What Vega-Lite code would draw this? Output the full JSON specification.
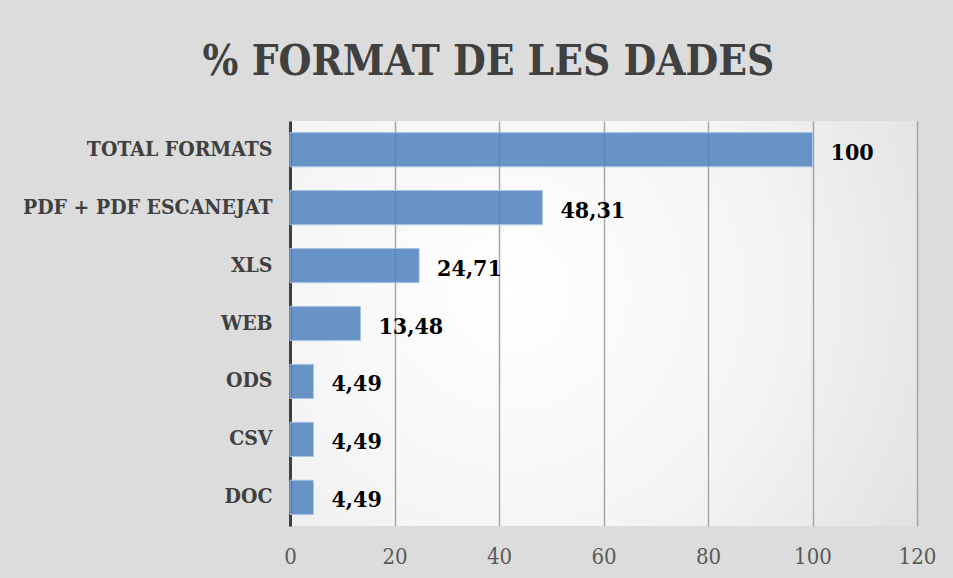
{
  "$schema": "https://vega.github.io/schema/vega-lite/v6.json",
  "width": 627,
  "height": 405,
  "autosize": {"type": "none"},
  "padding": {"left": 290, "top": 121, "right": 36, "bottom": 52},
  "background": "#dcdcdc",
  "title": {
    "text": "% FORMAT DE LES DADES",
    "font": "DejaVu Serif Condensed",
    "fontSize": 42,
    "fontWeight": "bold",
    "color": "#404040",
    "anchor": "middle",
    "dx": -115,
    "offset": 37
  },
  "data": {
    "values": [
      {"format": "TOTAL FORMATS", "value": 100, "label": "100"},
      {"format": "PDF + PDF ESCANEJAT", "value": 48.31, "label": "48,31"},
      {"format": "XLS", "value": 24.71, "label": "24,71"},
      {"format": "WEB", "value": 13.48, "label": "13,48"},
      {"format": "ODS", "value": 4.49, "label": "4,49"},
      {"format": "CSV", "value": 4.49, "label": "4,49"},
      {"format": "DOC", "value": 4.49, "label": "4,49"}
    ]
  },
  "encoding": {
    "y": {
      "field": "format",
      "type": "nominal",
      "sort": null,
      "title": null,
      "scale": {"paddingInner": 0.41, "paddingOuter": 0.2},
      "axis": {
        "domain": true,
        "domainColor": "#404040",
        "domainWidth": 3,
        "ticks": false,
        "labelPadding": 18,
        "labelLimit": 400,
        "labelFont": "DejaVu Serif Condensed",
        "labelFontWeight": "bold",
        "labelFontSize": 21,
        "labelColor": "#404040",
        "grid": false
      }
    },
    "x": {
      "field": "value",
      "type": "quantitative",
      "title": null,
      "scale": {"domain": [0, 120], "nice": false},
      "axis": {
        "values": [0, 20, 40, 60, 80, 100, 120],
        "domain": false,
        "ticks": false,
        "grid": true,
        "gridColor": "#a6a6a6",
        "gridWidth": 1.5,
        "labelFlush": false,
        "labelPadding": 20,
        "labelFont": "DejaVu Serif Condensed",
        "labelFontSize": 22,
        "labelColor": "#595959"
      }
    }
  },
  "layer": [
    {
      "mark": {"type": "bar", "fill": "#4f81bd", "fillOpacity": 0.85, "stroke": "#a9c4e4", "strokeWidth": 1}
    },
    {
      "mark": {
        "type": "text",
        "align": "left",
        "baseline": "middle",
        "dx": 18,
        "dy": 3,
        "font": "DejaVu Serif Condensed",
        "fontWeight": "bold",
        "fontSize": 23,
        "color": "#000000"
      },
      "encoding": {"text": {"field": "label"}}
    }
  ],
  "config": {
    "view": {
      "stroke": null,
      "fill": {
        "gradient": "radial",
        "x1": 0.35, "y1": 0.45, "r1": 0,
        "x2": 0.35, "y2": 0.45, "r2": 0.85,
        "stops": [
          {"offset": 0, "color": "#ffffff"},
          {"offset": 0.5, "color": "#f4f4f4"},
          {"offset": 1, "color": "#dcdcdc"}
        ]
      }
    }
  }
}
